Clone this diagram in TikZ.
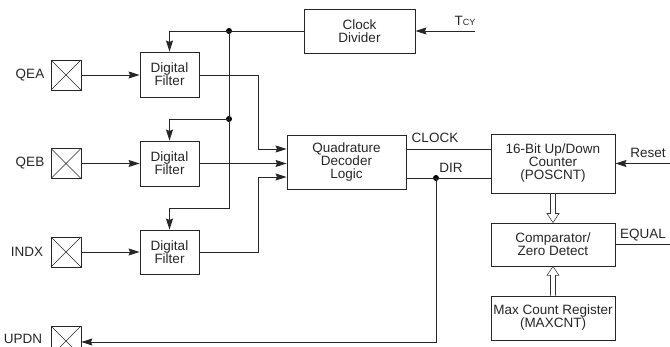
\documentclass[tikz,border=0pt]{standalone}
\usepackage{fontspec}
\setmainfont{Liberation Sans}
\usetikzlibrary{arrows.meta,calc}
\begin{document}
\begin{tikzpicture}[x=1pt,y=-1pt,
  every node/.style={font=\fontsize{13.5}{13}\selectfont, text=black!85},
  blk/.style={draw=black!85, line width=0.9pt, align=center, inner sep=0pt},
  pad/.style={draw=black!85, line width=0.8pt, minimum width=30pt, minimum height=30pt, inner sep=0pt,
    path picture={\draw[line width=0.6pt] (path picture bounding box.north west) -- (path picture bounding box.south east)
      (path picture bounding box.south west) -- (path picture bounding box.north east);}},
  wire/.style={draw=black!85, line width=0.8pt},
  arr/.style={wire, -{Stealth[length=11pt,width=7pt,inset=1.5pt]}},
  hol/.style={draw=black!80, line width=0.6pt, line join=miter},
  dot/.style={circle, fill=black, inner sep=0pt, minimum size=6pt}
]
\useasboundingbox (0,0) rectangle (670,347);

% blocks
\node[blk, minimum width=111pt, minimum height=44pt] (clk) at (359.5,31) {Clock\\Divider};
\node[blk, minimum width=59pt, minimum height=45pt] (f1) at (169.5,74.5) {Digital\\Filter};
\node[blk, minimum width=59pt, minimum height=45pt] (f2) at (169.5,163.5) {Digital\\Filter};
\node[blk, minimum width=59pt, minimum height=44pt] (f3) at (169.5,252) {Digital\\Filter};
\node[blk, minimum width=119pt, minimum height=54pt] (quad) at (346.5,162) {Quadrature\\Decoder\\Logic};
\node[blk, minimum width=124pt, minimum height=59pt] (cnt) at (553,163.5) {16-Bit Up/Down\\Counter\\(POSCNT)};
\node[blk, minimum width=124pt, minimum height=43pt] (cmp) at (553,244.5) {Comparator/\\Zero Detect};
\node[blk, minimum width=124pt, minimum height=44pt] (max) at (553,318) {Max Count Register\\(MAXCNT)};

% pads
\node[pad] (qea) at (66,75) {};
\node[pad] (qeb) at (66,163.5) {};
\node[pad] (indx) at (66,252) {};
\node[pad] (updn) at (66,341) {};

% labels
\node (lqea) at (30,75) {QEA};
\node (lqeb) at (30,163.5) {QEB};
\node (lindx) at (27,252) {INDX};
\node (lupdn) at (23,339) {UPDN};
\node (ltcy) at (465,21) {T{\fontsize{9}{9}\selectfont CY}};
\node (lclock) at (435,138) {CLOCK};
\node (ldir) at (451,168) {DIR};
\node (lreset) at (648,153) {Reset};
\node (lequal) at (643,235) {EQUAL};

% coordinates
\coordinate (tcy) at (475,31);
\coordinate (rst) at (670,163.5);
\coordinate (eq) at (670,244.5);
\node[dot] (d1) at (229,31) {};
\node[dot] (d2) at (229,119) {};
\node[dot] (d3) at (436,178) {};

% clock distribution
\draw[arr] (tcy) -- (clk.east);
\draw[wire] (clk.west) -- (d1.center);
\draw[arr] (d1.center) -- (f1.north |- d1) -- (f1.north);
\draw[arr] (d2.center) -- (f2.north |- d2) -- (f2.north);
\draw[arr] (d1.center) -- (229,208) -- (f3.north |- 0,208) -- (f3.north);

% inputs
\draw[arr] (qea.east) -- (f1.west |- qea);
\draw[arr] (qeb.east) -- (f2.west |- qeb);
\draw[arr] (indx.east) -- (f3.west |- indx);

% filters to decoder
\draw[arr] (f1.east |- 0,75) -- (258,75) -- (258,149) -- (quad.west |- 0,149);
\draw[arr] (f2.east) -- (quad.west |- f2.east);
\draw[arr] (f3.east |- 0,252) -- (258,252) -- (258,177) -- (quad.west |- 0,177);

% decoder to counter
\draw[wire] (quad.east |- 0,149) -- (cnt.west |- 0,149);
\draw[wire] (quad.east |- d3) -- (cnt.west |- d3);
\draw[arr] (d3.center) -- (436,342) -- (updn.east |- 0,342);

% counter side
\draw[arr] (rst) -- (cnt.east);
\draw[wire] (cmp.east) -- (eq);

% hollow bus arrows
\draw[hol] ($(cnt.south)+(-2.5,0)$) -- ($(cmp.north)+(-2.5,-9)$) -- ($(cmp.north)+(-6,-9)$) -- (cmp.north)
  -- ($(cmp.north)+(6,-9)$) -- ($(cmp.north)+(2.5,-9)$) -- ($(cnt.south)+(2.5,0)$);
\draw[hol] ($(max.north)+(-2.5,0)$) -- ($(cmp.south)+(-2.5,9)$) -- ($(cmp.south)+(-6,9)$) -- (cmp.south)
  -- ($(cmp.south)+(6,9)$) -- ($(cmp.south)+(2.5,9)$) -- ($(max.north)+(2.5,0)$);
\end{tikzpicture}
\end{document}
